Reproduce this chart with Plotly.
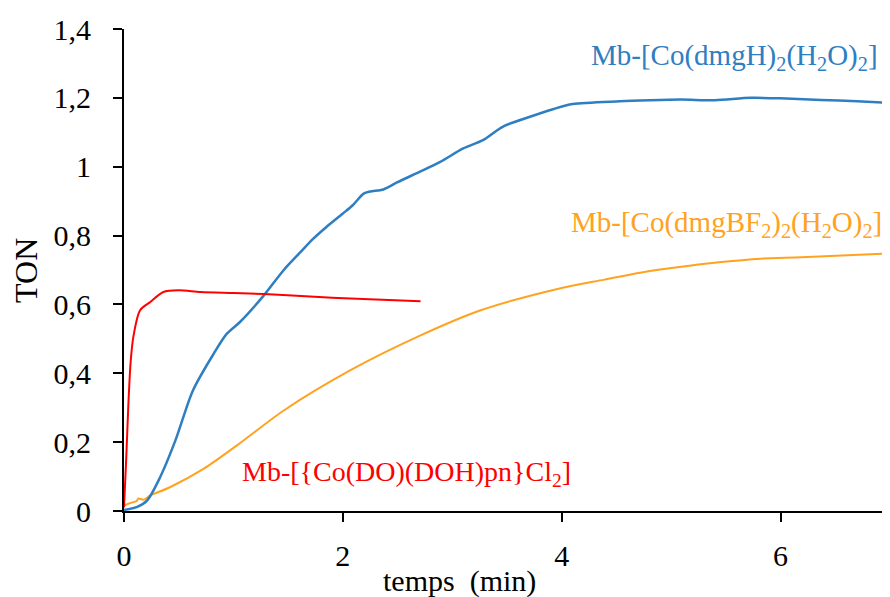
import plotly.graph_objects as go

# Blue series: Mb-[Co(dmgH)2(H2O)2]
blue_x = [0, 0.116, 0.21, 0.33, 0.47, 0.63, 0.82, 0.94, 1.06, 1.28, 1.46, 1.61, 1.73, 1.85, 2.0, 2.09, 2.19, 2.25, 2.37, 2.50, 2.70, 2.89, 3.10, 3.28, 3.46, 3.71, 3.92, 4.10, 4.53, 4.80, 5.09, 5.40, 5.73, 6.05, 6.37, 6.70, 7.0]
blue_y = [0.003, 0.011, 0.03, 0.098, 0.205, 0.35, 0.457, 0.515, 0.549, 0.627, 0.70, 0.751, 0.791, 0.825, 0.864, 0.888, 0.922, 0.928, 0.934, 0.955, 0.985, 1.014, 1.053, 1.077, 1.116, 1.145, 1.167, 1.182, 1.19, 1.193, 1.195, 1.193, 1.20, 1.198, 1.194, 1.19, 1.185]

# Orange series: Mb-[Co(dmgBF2)2(H2O)2]
orange_x = [0, 0.055, 0.116, 0.13, 0.18, 0.24, 0.42, 0.73, 1.03, 1.46, 2.07, 2.71, 3.26, 3.99, 4.39, 4.73, 5.46, 5.82, 6.19, 7.0]
orange_y = [0.016, 0.023, 0.029, 0.036, 0.033, 0.045, 0.069, 0.123, 0.19, 0.292, 0.409, 0.51, 0.583, 0.647, 0.672, 0.693, 0.723, 0.733, 0.737, 0.748]

# Red series: Mb-[{Co(DO)(DOH)pn}Cl2]
red_x = [0, 0.02, 0.04, 0.06, 0.085, 0.147, 0.24, 0.36, 0.50, 0.70, 1.0, 1.28, 1.7, 2.07, 2.71]
red_y = [0.01, 0.15, 0.31, 0.43, 0.505, 0.583, 0.607, 0.636, 0.641, 0.636, 0.633, 0.63, 0.623, 0.617, 0.609]

x_ticks = [0, 2, 4, 6]
y_ticks = [0, 0.2, 0.4, 0.6, 0.8, 1.0, 1.2, 1.4]
y_labels = ["0", "0,2", "0,4", "0,6", "0,8", "1", "1,2", "1,4"]

BLUE = "#2E7EC2"
ORANGE = "#FFA21F"
RED = "#FF0000"
FONT = "Liberation Serif"

fig = go.Figure()
fig.add_trace(go.Scatter(x=orange_x, y=orange_y, mode="lines", line=dict(color=ORANGE, width=2, shape="spline", smoothing=0.8), showlegend=False))
fig.add_trace(go.Scatter(x=blue_x, y=blue_y, mode="lines", line=dict(color=BLUE, width=2.5, shape="spline", smoothing=0.8), showlegend=False))
fig.add_trace(go.Scatter(x=red_x, y=red_y, mode="lines", line=dict(color=RED, width=2, shape="spline", smoothing=0.8), showlegend=False))

# page body has an 8px margin, so the figure is sized to fill the rest of the window
fig.update_layout(
    width=882, height=589,
    margin=dict(l=116, r=0, t=21, b=86),
    paper_bgcolor="white", plot_bgcolor="white",
    font=dict(family=FONT, color="black", size=30),
)
fig.update_xaxes(
    range=[0, 7], tickvals=x_ticks, ticktext=[str(v) for v in x_ticks],
    showgrid=False, zeroline=False, showline=True, linecolor="black", linewidth=2,
    ticks="outside", ticklen=9, tickwidth=2, tickcolor="black",
    tickfont=dict(family=FONT, size=30), ticklabelstandoff=8,
)
fig.update_yaxes(
    range=[0, 1.4], tickvals=y_ticks, ticktext=y_labels,
    showgrid=False, zeroline=False, showline=True, linecolor="black", linewidth=2,
    ticks="outside", ticklen=9, tickwidth=2, tickcolor="black",
    tickfont=dict(family=FONT, size=30), ticklabelstandoff=16,
)

annos = [
    dict(text="TON", x=-0.128, y=0.5, textangle=-90, size=32, color="black"),
    dict(text="temps\u00a0\u00a0(min)", x=0.438, y=-0.145, textangle=0, size=30, color="black"),
]
for a in annos:
    fig.add_annotation(xref="paper", yref="paper", x=a["x"], y=a["y"], text=a["text"],
                       showarrow=False, textangle=a["textangle"],
                       font=dict(family=FONT, size=a["size"], color=a["color"]),
                       xanchor="center", yanchor="middle")

labels = [
    dict(text="Mb-[Co(dmgH)<sub>2</sub>(H<sub>2</sub>O)<sub>2</sub>]", x=4.25, y=1.318, color=BLUE, size=29),
    dict(text="Mb-[Co(dmgBF<sub>2</sub>)<sub>2</sub>(H<sub>2</sub>O)<sub>2</sub>]", x=4.07, y=0.835, color=ORANGE, size=29),
    dict(text="Mb-[{Co(DO)(DOH)pn}Cl<sub>2</sub>]", x=1.06, y=0.11, color=RED, size=28),
]
for l in labels:
    fig.add_annotation(x=l["x"], y=l["y"], text=l["text"], showarrow=False,
                       xanchor="left", yanchor="middle",
                       font=dict(family=FONT, size=l["size"], color=l["color"]))

fig.write_html("out.html")
